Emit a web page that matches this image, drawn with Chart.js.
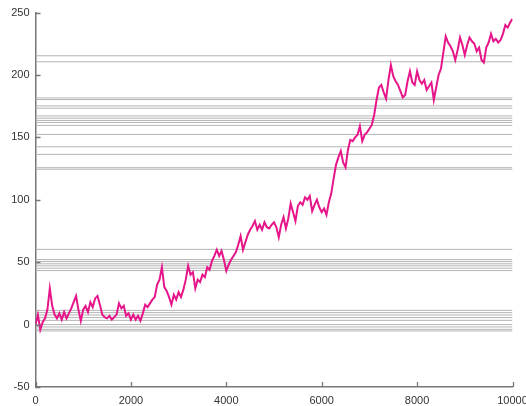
<!DOCTYPE html>
<html lang="en">
<head>
    <meta charset="UTF-8">
    <title>Random walk</title>
    <script src="https://cdn.jsdelivr.net/npm/chart.js"></script>
    <style>
        body { margin: 0; overflow: hidden; background: #fff; }
        .chart-container { position: relative; width: 540px; height: 406px; }
    </style>
</head>
<body>
<div class="chart-container">
    <canvas id="walk-chart"></canvas>
</div>
<script>
    // x axis ticks and y axis ticks
    const xTicks = [0, 2000, 4000, 6000, 8000, 10000];
    const yTicks = [-50, 0, 50, 100, 150, 200, 250];

    // levels of the grey horizontal lines
    const hLevels = [215.4, 210.6, 181.6, 180.3, 175.2, 173.4, 167.2, 165.4, 163.6, 162.0,
        159.6, 152.4, 142.5, 136.4, 125.7, 124.5,
        60.3, 52.1, 50.5, 48.7, 47.1, 45.2, 43.3,
        11.4, 9.6, 7.7, 5.6, 3.4, 0, -1.9, -3.8, -5.1];

    const walkStep = 50;
    const walkY = [
        0, 8, -4, 2, 5, 12, 29, 15, 8, 5,
        9, 4, 10, 5, 9, 13, 18, 23, 12, 3,
        12, 15, 10, 18, 14, 21, 23, 16, 8, 6,
        5, 7, 4, 6, 8, 17, 13, 15, 7, 9,
        4, 8, 4, 7, 3, 9, 16, 14, 17, 20,
        22, 32, 36, 46, 30, 27, 22, 16, 24, 20,
        26, 22, 28, 36, 47, 40, 42, 29, 36, 34,
        40, 38, 46, 44, 51, 55, 60, 55, 59, 52,
        43, 48, 52, 55, 58, 64, 71, 60, 66, 72,
        76, 79, 83, 76, 80, 76, 82, 78, 77, 80,
        82, 78, 70, 80, 86, 77, 85, 97, 90, 83,
        95, 98, 96, 102, 100, 103, 91, 96, 100, 94,
        90, 93, 88, 98, 105, 117, 128, 134, 139, 130,
        126, 140, 148, 147, 150, 152, 159, 147, 152, 154,
        157, 160, 168, 180, 190, 192, 186, 181, 196, 208,
        199, 195, 192, 187, 182, 184, 195, 203, 194, 192,
        203, 196, 193, 196, 188, 191, 194, 180, 190, 200,
        205, 218, 231, 226, 223, 219, 212, 220, 230, 224,
        216, 224, 230, 227, 225, 219, 222, 212, 210, 222,
        226, 233, 227, 229, 226, 228, 233, 240, 238, 242,
        245
    ];

    const axisColor = '#777';
    const lineColor = '#e6158a';

    const datasets = hLevels.map(v => ({
        data: [{x: xTicks[0], y: v}, {x: xTicks[xTicks.length - 1], y: v}],
        borderColor: '#b4b4b4',
        borderWidth: 1,
        pointRadius: 0,
        order: 2
    }));
    datasets.push({
        data: walkY.map((y, i) => ({x: i * walkStep, y: y})),
        borderColor: lineColor,
        borderWidth: 2,
        pointRadius: 0,
        tension: 0,
        order: 1
    });

    // short tick marks pointing into the plot
    const innerTicks = {
        id: 'innerTicks',
        afterDraw(chart) {
            const ctx = chart.ctx;
            const xs = chart.scales.x, ys = chart.scales.y;
            ctx.save();
            ctx.strokeStyle = axisColor;
            ctx.lineWidth = 1.3;
            ctx.beginPath();
            xTicks.forEach(t => {
                const px = Math.round(xs.getPixelForValue(t)) + 0.5;
                ctx.moveTo(px, ys.bottom);
                ctx.lineTo(px, ys.bottom - 5);
            });
            yTicks.forEach(t => {
                const py = Math.round(ys.getPixelForValue(t)) + 0.5;
                ctx.moveTo(xs.left, py);
                ctx.lineTo(xs.left + 5, py);
            });
            ctx.stroke();
            ctx.restore();
        }
    };

    new Chart(document.getElementById('walk-chart'), {
        type: 'line',
        data: { datasets: datasets },
        options: {
            responsive: true,
            maintainAspectRatio: false,
            animation: false,
            layout: { padding: { left: 0, top: 11, right: 27.5, bottom: 0 } },
            plugins: {
                legend: { display: false },
                tooltip: { enabled: false }
            },
            scales: {
                x: {
                    type: 'linear',
                    min: 0,
                    max: 10000,
                    afterBuildTicks: s => { s.ticks = xTicks.map(v => ({value: v})); },
                    afterFit: s => { s.height = 19; },
                    grid: { display: false, drawTicks: false, tickLength: 0 },
                    border: { display: true, color: axisColor, width: 1.5 },
                    ticks: {
                        color: '#333',
                        font: { family: 'Liberation Sans', size: 11 },
                        padding: 7,
                        maxRotation: 0,
                        callback: v => String(v)
                    }
                },
                y: {
                    min: -50,
                    max: 250,
                    afterBuildTicks: s => { s.ticks = yTicks.map(v => ({value: v})); },
                    afterFit: s => { s.width = 35.5; },
                    grid: { display: false, drawTicks: false, tickLength: 0 },
                    border: { display: true, color: axisColor, width: 1.5 },
                    ticks: {
                        color: '#333',
                        font: { family: 'Liberation Sans', size: 11 },
                        padding: 6,
                        callback: v => String(v)
                    }
                }
            }
        },
        plugins: [innerTicks]
    });
</script>
</body>
</html>
